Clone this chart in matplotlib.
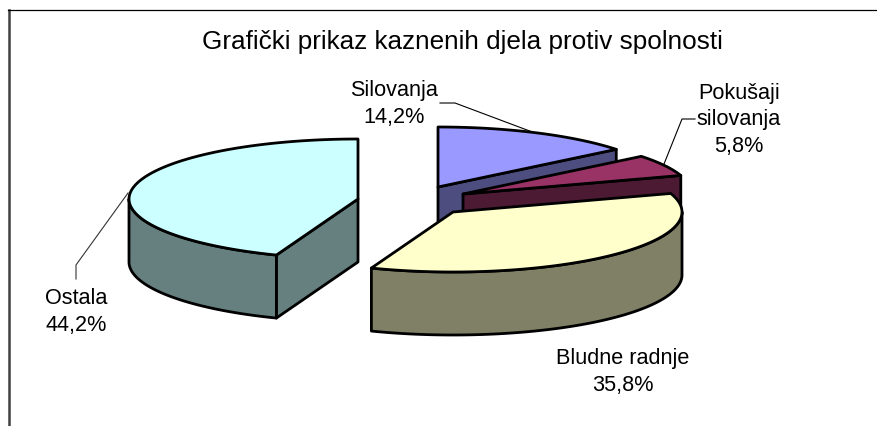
import matplotlib
matplotlib.use("Agg")
import matplotlib.pyplot as plt
import numpy as np
from matplotlib.patches import Polygon

plt.rcParams['font.family'] = ['Liberation Sans', 'DejaVu Sans']

# data
categories = ["Silovanja", "Pokušaji\nsilovanja", "Bludne radnje", "Ostala"]
values = [14.2, 5.8, 35.8, 44.2]
value_labels = ["14,2%", "5,8%", "35,8%", "44,2%"]

# style and layout, in pixels of the picture
top_colors = ["#9999FF", "#993366", "#FFFFCC", "#CCFFFF"]
side_colors = ["#4D4D80", "#4D1A33", "#808066", "#668080"]
centers = [(438, 188), (463, 195), (453, 213), (358, 200)]
rx, ry, depth = 229, 60, 63
draw_order = [0, 1, 3, 2]

fig = plt.figure(figsize=(8.77, 4.27), dpi=100)
ax = fig.add_axes([0, 0, 1, 1])
ax.set_xlim(0, 877)
ax.set_ylim(427, 0)
ax.axis("off")

# outer frame, only left and top edges are inside the picture
ax.plot([8.5, 8.5], [427, 11], color="#404040", lw=1.8, solid_joinstyle="miter", zorder=1)
ax.plot([8, 877], [11, 11], color="black", lw=0.9, zorder=1)


def rim(cx, cy, a, b, n=80):
    # a, b: degrees clockwise from the top of the pie
    t = np.radians(np.linspace(a, b, n))
    return np.column_stack([cx + rx * np.sin(t), cy - ry * np.cos(t)])


def add_face(pts, color, z):
    ax.add_patch(Polygon(pts, closed=True, facecolor=color, edgecolor="black",
                         lw=2.0, joinstyle="round", zorder=z))


ends = np.cumsum(values) / np.sum(values) * 360
starts = ends - np.array(values) / np.sum(values) * 360
down = np.array([0, depth])

z = 2
for i in draw_order:
    cx, cy = centers[i]
    a, b = starts[i], ends[i]
    apex = np.array([cx, cy], dtype=float)

    # cut faces turned towards the viewer
    if np.sin(np.radians(b)) > 0.01:
        e = rim(cx, cy, b, b, 1)[0]
        add_face([apex, e, e + down, apex + down], side_colors[i], z)
    if np.sin(np.radians(a)) < -0.01:
        e = rim(cx, cy, a, a, 1)[0]
        add_face([apex, e, e + down, apex + down], side_colors[i], z)

    # outer wall, only the front half of the rim
    lo, hi = max(a, 90), min(b, 270)
    if hi > lo:
        arc = rim(cx, cy, lo, hi)
        add_face(np.vstack([arc, arc[::-1] + down]), side_colors[i], z)

    # top face
    add_face(np.vstack([apex, rim(cx, cy, a, b)]), top_colors[i], z + 0.5)
    z += 1

# leader lines
ax.plot([440, 455, 535], [104, 104, 134], color="black", lw=0.8, zorder=1.5)
ax.plot([695, 682, 664], [120, 120, 165], color="black", lw=0.8, zorder=1.5)
ax.plot([76, 76, 128], [280, 266, 194], color="#333333", lw=0.8, zorder=1.5)

# texts
ax.text(462, 42, "Grafički prikaz kaznenih djela protiv spolnosti", fontsize=18.8,
        ha="center", va="center", color="black")
label_pos = [(394, 104), (739, 120), (623, 372), (76, 312)]
for i, (x, y) in enumerate(label_pos):
    ax.text(x, y, categories[i] + "\n" + value_labels[i], fontsize=15.6, ha="center",
            va="center", multialignment="center", linespacing=1.36, color="black")

fig.savefig("out.png", dpi=100, facecolor="white")
